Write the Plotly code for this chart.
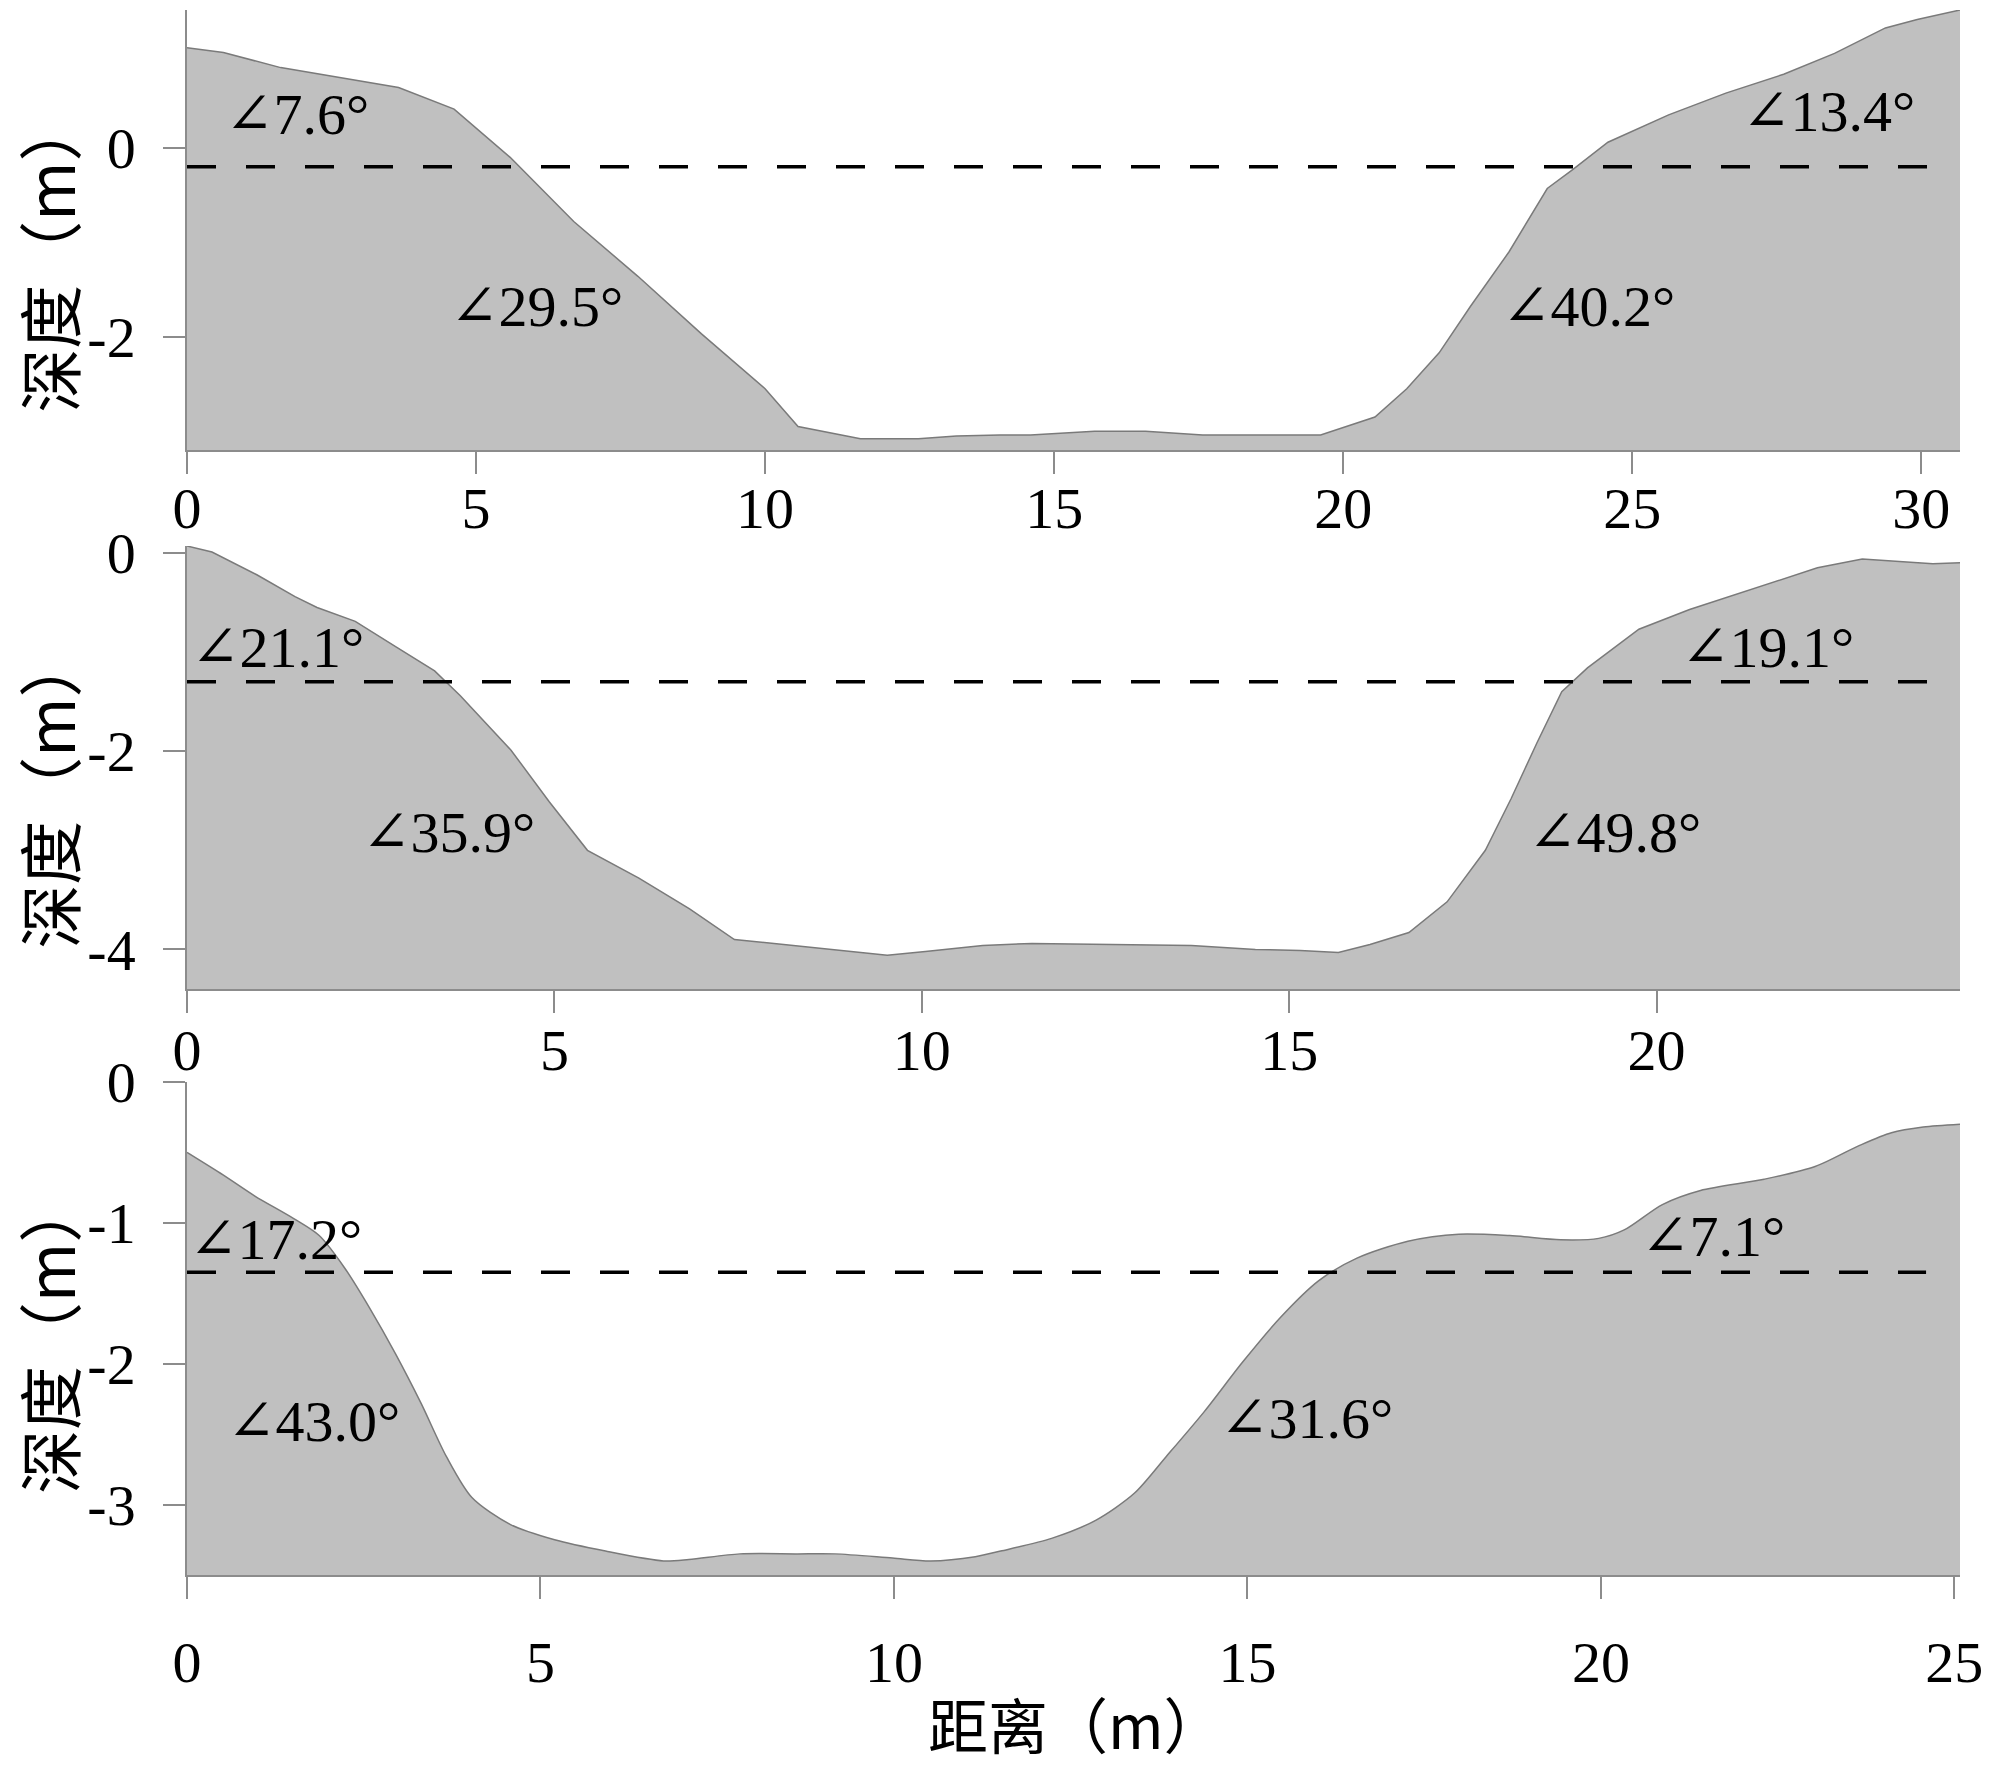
"""
河道横断面剖面图（三个断面）
"""
import plotly.graph_objects as go

# 断面1
x1 = [0, 0.63, 1.62, 2.61, 3.66, 4.62, 5.59, 6.69, 7.8, 8.9, 10.0, 10.57, 10.99, 11.65,
      12.65, 13.31, 14.06, 14.59, 15.7, 16.58, 17.57, 18.68, 19.61, 20.55, 21.1, 21.66,
      22.2, 22.87, 23.53, 23.97, 24.58, 25.63, 26.62, 27.62, 28.5, 29.38, 29.93, 30.67]
y1 = [1.06, 1.01, 0.85, 0.75, 0.64, 0.41, -0.1, -0.78, -1.36, -1.97, -2.55, -2.95, -3.0,
      -3.08, -3.08, -3.05, -3.04, -3.04, -3.0, -3.0, -3.04, -3.04, -3.04, -2.85, -2.55,
      -2.17, -1.68, -1.1, -0.43, -0.23, 0.06, 0.35, 0.58, 0.78, 1.0, 1.27, 1.36, 1.46]

# 断面2
x2 = [0, 0.34, 0.95, 1.47, 1.77, 2.29, 2.85, 3.37, 3.72, 4.41, 4.93, 5.45, 6.15, 6.84,
      7.45, 9.53, 10.05, 10.83, 11.5, 12.63, 13.67, 14.54, 15.15, 15.67, 16.1, 16.63,
      17.15, 17.67, 18.02, 18.37, 18.71, 19.06, 19.76, 20.45, 21.32, 22.19, 22.8, 23.23,
      23.76, 24.13]
y2 = [0.07, 0.01, -0.22, -0.44, -0.55, -0.69, -0.95, -1.19, -1.44, -1.99, -2.51, -3.0,
      -3.28, -3.59, -3.9, -4.06, -4.02, -3.96, -3.94, -3.95, -3.96, -4.0, -4.01, -4.03,
      -3.95, -3.83, -3.52, -3.0, -2.48, -1.92, -1.4, -1.16, -0.77, -0.57, -0.36, -0.15,
      -0.06, -0.08, -0.11, -0.1]

# 断面3
x3 = [0, 0.51, 0.96, 1.51, 1.87, 2.23, 2.59, 2.95, 3.31, 3.67, 4.03, 4.57, 5.2, 5.92,
      6.74, 7.1, 7.82, 8.63, 9.17, 9.98, 10.52, 11.15, 11.51, 12.23, 12.86, 13.4, 13.85,
      14.39, 14.93, 15.47, 16.01, 16.55, 17.27, 17.99, 18.71, 19.43, 19.97, 20.33, 20.87,
      21.41, 22.31, 23.03, 23.66, 24.11, 24.56, 25.08]
y3 = [-0.5, -0.66, -0.81, -0.97, -1.09, -1.32, -1.61, -1.93, -2.28, -2.66, -2.95, -3.14,
      -3.25, -3.33, -3.4, -3.39, -3.35, -3.35, -3.35, -3.38, -3.4, -3.37, -3.33, -3.24,
      -3.11, -2.92, -2.66, -2.34, -1.99, -1.67, -1.41, -1.25, -1.13, -1.08, -1.09, -1.12,
      -1.11, -1.05, -0.87, -0.77, -0.69, -0.6, -0.45, -0.36, -0.32, -0.3]

# 水位线 (y) 与虚线终点 (x)
water_levels = [-0.2, -1.3, -1.35]
water_x_end = [30.1, 23.8, 24.6]

# 坐标范围与刻度
y_ranges = [[-3.2, 1.46], [-4.4, 0.07], [-3.5, 0]]
x_max = [30.67, 24.13, 25.08]
x_tickvals = [[0, 5, 10, 15, 20, 25, 30], [0, 5, 10, 15, 20], [0, 5, 10, 15, 20, 25]]
y_tickvals = [[0, -2], [0, -2, -4], [0, -1, -2, -3]]
y_ticktext = [["0", "-2"], ["0", "-2", "-4"], ["0", "-1", "-2", "-3"]]

# 坡度标注: (断面, x, y, 文字)
angle_labels = [
    (1, 0.62, 0.35, "∠7.6°"), (1, 4.52, -1.68, "∠29.5°"),
    (1, 22.72, -1.68, "∠40.2°"), (1, 26.87, 0.38, "∠13.4°"),
    (2, 0.03, -0.95, "∠21.1°"), (2, 2.36, -2.82, "∠35.9°"),
    (2, 18.23, -2.82, "∠49.8°"), (2, 20.31, -0.95, "∠19.1°"),
    (3, 0.0, -1.12, "∠17.2°"), (3, 0.54, -2.41, "∠43.0°"),
    (3, 14.58, -2.39, "∠31.6°"), (3, 20.54, -1.10, "∠7.1°"),
]

SERIF = "Liberation Serif, Times New Roman, DejaVu Serif, serif"
CJK = "Noto Sans CJK SC, sans-serif"
FILL = "#c0c0c0"
AXIS = "#8c8c8c"

profiles = [(x1, y1, "linear"), (x2, y2, "linear"), (x3, y3, "spline")]

fig = go.Figure()

for i, (xs, ys, shape) in enumerate(profiles):
    n = i + 1
    xa = "x" if n == 1 else f"x{n}"
    ya = "y" if n == 1 else f"y{n}"
    bottom = y_ranges[i][0]
    # 底线（用于填充）
    fig.add_trace(go.Scatter(
        x=xs, y=[bottom] * len(xs), mode="lines",
        line=dict(width=0, color=FILL), xaxis=xa, yaxis=ya,
        showlegend=False, hoverinfo="skip"
    ))
    # 断面
    fig.add_trace(go.Scatter(
        x=xs, y=ys, mode="lines", fill="tonexty", fillcolor=FILL,
        line=dict(color="#7a7a7a", width=1.5, shape=shape, smoothing=0.8),
        xaxis=xa, yaxis=ya, showlegend=False
    ))
    # 水位虚线
    fig.add_trace(go.Scatter(
        x=[0, water_x_end[i]], y=[water_levels[i]] * 2, mode="lines",
        line=dict(color="black", width=3.5, dash="29px,30px"),
        xaxis=xa, yaxis=ya, showlegend=False, hoverinfo="skip"
    ))

domains = [[0.7188, 1.0], [0.3744, 0.6575], [0.0, 0.315]]
standoffs = [-15, -12, 14]

layout = dict(
    width=2000, height=1768,
    margin=dict(l=187, r=40, t=10, b=193),
    paper_bgcolor="white", plot_bgcolor="white",
    font=dict(family=SERIF, size=58, color="black"),
    showlegend=False,
)

for i in range(3):
    n = i + 1
    sx = "" if n == 1 else str(n)
    layout[f"xaxis{sx}"] = dict(
        domain=[0, 1], anchor=f"y{sx}", range=[0, x_max[i]],
        tickmode="array", tickvals=x_tickvals[i],
        ticks="outside", ticklen=22, tickcolor=AXIS, tickwidth=1.5,
        showline=True, linecolor=AXIS, linewidth=1.5,
        showgrid=False, zeroline=False, automargin=False,
        tickfont=dict(family=SERIF, size=58),
        ticklabelstandoff=standoffs[i],
    )
    layout[f"yaxis{sx}"] = dict(
        domain=domains[i], anchor=f"x{sx}", range=y_ranges[i],
        tickmode="array", tickvals=y_tickvals[i], ticktext=y_ticktext[i],
        ticks="outside", ticklen=22, tickcolor=AXIS, tickwidth=1.5,
        showline=True, linecolor=AXIS, linewidth=1.5,
        showgrid=False, zeroline=False, automargin=False,
        tickfont=dict(family=SERIF, size=58),
        ticklabelstandoff=16,
    )

fig.update_layout(**layout)

for panel, ax, ay, txt in angle_labels:
    sx = "" if panel == 1 else str(panel)
    fig.add_annotation(
        x=ax, y=ay, xref=f"x{sx}", yref=f"y{sx}", text=txt, showarrow=False,
        xanchor="left", yanchor="middle",
        font=dict(family=SERIF, size=58, color="black")
    )

# 纵轴标题
for yc in [0.8435, 0.501, 0.1527]:
    fig.add_annotation(
        x=-0.079, y=yc, xref="paper", yref="paper", text="深度（m）",
        showarrow=False, textangle=-90, xanchor="center", yanchor="middle",
        font=dict(family=CJK, size=64, color="black")
    )

# 横轴标题
fig.add_annotation(
    x=0.5015, y=-0.094, xref="paper", yref="paper", text="距离（m）",
    showarrow=False, xanchor="center", yanchor="middle",
    font=dict(family=CJK, size=60, color="black")
)

fig.write_html("out.html", config={"displayModeBar": False},
               post_script="document.body.style.margin='0px';")
